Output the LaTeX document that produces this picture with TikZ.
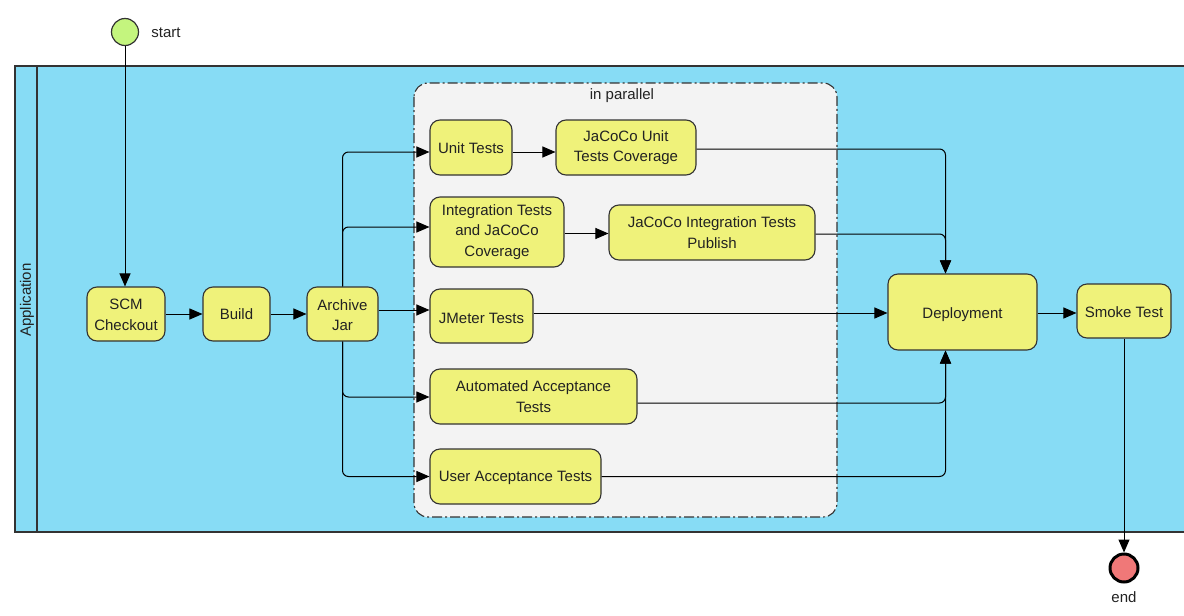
\documentclass[tikz,border=0pt]{standalone}
\usepackage{fontspec}
\setmainfont{Liberation Sans}
\usetikzlibrary{arrows.meta}
\definecolor{poolblue}{HTML}{87DCF5}
\definecolor{taskyellow}{HTML}{EFF27A}
\definecolor{grpgray}{HTML}{F3F3F3}
\definecolor{startgreen}{HTML}{C4F57E}
\definecolor{endred}{HTML}{F07878}
\definecolor{linegray}{HTML}{333333}
\definecolor{txt}{HTML}{222222}
\newcommand{\lowtext}[2]{\raisebox{-#1}[\height][\depth]{#2}}
\begin{document}
\begin{tikzpicture}[x=1pt,y=-1pt,
  font=\fontsize{15}{20.5}\selectfont,
  task/.style={draw=linegray, line width=1.1pt, fill=taskyellow, rounded corners=10pt, align=center, inner sep=0pt, text=txt},
  flow/.style={draw=black, line width=1pt, -{Triangle[length=13pt,width=11pt]}, rounded corners=6pt},
  lbl/.style={text=txt, inner sep=0pt},
]
\useasboundingbox (0,0) rectangle (1184,616);
% pool and lane
\path[draw=linegray, line width=1.3pt, fill=poolblue] (15,66) rectangle (1190,532);
\draw[linegray, line width=1.3pt] (37,66) -- (37,532);
\node[lbl, rotate=90] (lane) at (27,300) {Application};
% group
\draw[linegray, line width=1.1pt, fill=grpgray, rounded corners=14pt,
  dash pattern=on 10pt off 3pt on 2pt off 3pt] (414,83) rectangle (837,517);
\node[lbl] (grp) at (622,96) {in parallel};
% start / end
\node[circle, draw=linegray, fill=startgreen, minimum size=27pt, inner sep=0pt, line width=1.2pt] (start) at (125,32) {};
\node[lbl] (startl) at (166,33) {start};
\node[circle, draw=black, fill=endred, minimum size=28pt, inner sep=0pt, line width=3pt] (end) at (1124,568) {};
\node[lbl] (endl) at (1124,597) {end};
% tasks
\node[task, minimum width=78pt, minimum height=54pt] (SCM) at (126,314) {\lowtext{1pt}{SCM}\\\lowtext{1pt}{Checkout}};
\node[task, minimum width=67pt, minimum height=54pt] (Build) at (236.5,314) {Build};
\node[task, minimum width=71pt, minimum height=54pt] (Archive) at (342.5,314) {\lowtext{1pt}{Archive}\\\lowtext{1pt}{Jar}};
\node[task, minimum width=82pt, minimum height=55pt] (Unit) at (471,147.5) {\lowtext{1pt}{Unit Tests}};
\node[task, minimum width=140pt, minimum height=55pt] (JUnit) at (626,147.5) {JaCoCo Unit\\Tests Coverage};
\node[task, minimum width=134pt, minimum height=70pt] (Integ) at (497,232) {Integration Tests\\and JaCoCo\\Coverage};
\node[task, minimum width=206pt, minimum height=55pt] (JInteg) at (712,232.5) {JaCoCo Integration Tests\\Publish};
\node[task, minimum width=103pt, minimum height=54pt] (JMeter) at (481.5,316) {\lowtext{2pt}{JMeter Tests}};
\node[task, minimum width=207pt, minimum height=55pt] (AAT) at (533.5,396.5) {Automated Acceptance\\Tests};
\node[task, minimum width=171pt, minimum height=55pt] (UAT) at (515.5,476.5) {\lowtext{1.5pt}{User Acceptance Tests}};
\node[task, minimum width=149pt, minimum height=76pt] (Deploy) at (962.5,312) {\lowtext{3pt}{Deployment}};
\node[task, minimum width=94pt, minimum height=54pt] (Smoke) at (1124,311) {\lowtext{1pt}{Smoke Test}};
% connectors
\draw[flow] (start.south) -- (start.south |- SCM.north);
\draw[flow] (SCM) -- (Build);
\draw[flow] (Build) -- (Archive);
\draw[flow] ([yshift=4pt]Archive.east) -- ([yshift=4pt]Archive.east -| JMeter.west);
\draw[flow] (Archive.north) |- ([yshift=-4.5pt]Unit.west);
\draw[flow] (Archive.north) |- ([yshift=5pt]Integ.west);
\draw[flow] (Archive.south) |- ([yshift=-0.5pt]AAT.west);
\draw[flow] (Archive.south) |- (UAT.west);
\draw[flow] ([yshift=-4.5pt]Unit.east) -- ([yshift=-4.5pt]Unit.east -| JUnit.west);
\draw[flow] ([yshift=-1.5pt]Integ.east) -- ([yshift=-1.5pt]Integ.east -| JInteg.west);
\draw[flow] ([yshift=-1.5pt]JUnit.east) -| ([xshift=-17pt]Deploy.north);
\draw[flow] ([yshift=-1.5pt]JInteg.east) -| ([xshift=-17pt]Deploy.north);
\draw[flow] ([yshift=3pt]JMeter.east) -- ([yshift=3pt]JMeter.east -| Deploy.west);
\draw[flow] ([yshift=-6.5pt]AAT.east) -| ([xshift=-17pt]Deploy.south);
\draw[flow] (UAT.east) -| ([xshift=-17pt]Deploy.south);
\draw[flow] ([yshift=-1pt]Deploy.east) -- ([yshift=-1pt]Deploy.east -| Smoke.west);
\draw[flow] (Smoke.south) -- (end.north);
\end{tikzpicture}
\end{document}
